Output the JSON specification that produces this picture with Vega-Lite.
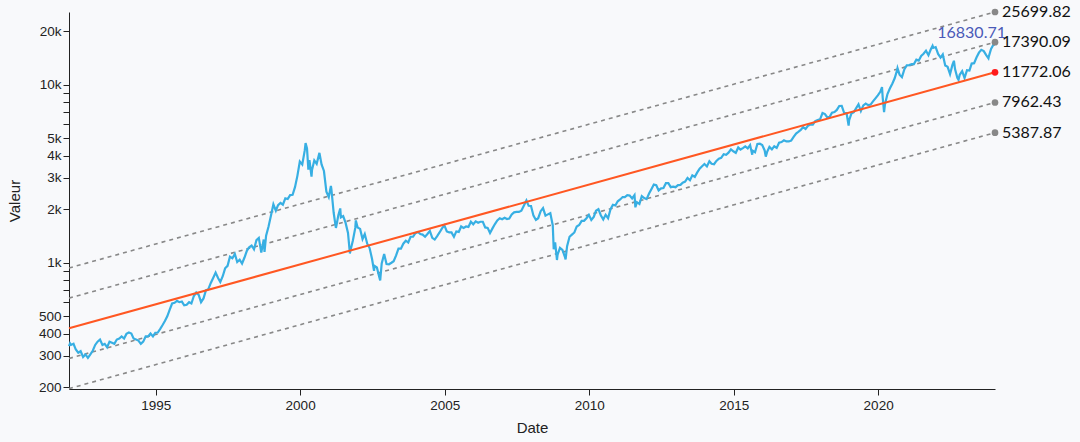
{
  "$schema": "https://vega.github.io/schema/vega-lite/v6.json",
  "width": 926,
  "height": 377,
  "autosize": {"type": "none"},
  "padding": {"left": 69, "top": 12, "right": 85, "bottom": 53},
  "background": "#f8f9fb",
  "config": {
    "view": {"stroke": null},
    "axis": {"domainColor": "#222", "tickColor": "#222", "labelColor": "#222", "titleColor": "#222", "labelFont": "Liberation Sans", "titleFont": "Liberation Sans", "labelFontSize": 13.5, "titleFontSize": 15, "titleFontWeight": "normal", "grid": false, "tickSize": 6}
  },
  "datasets": {
    "px": [
      {"d":"1992-01-02","v":340},{"d":"1992-01-15","v":352},{"d":"1992-01-28","v":345},{"d":"1992-02-28","v":350},{"d":"1992-03-28","v":325},{"d":"1992-04-28","v":312},{"d":"1992-05-28","v":318},{"d":"1992-06-28","v":295},{"d":"1992-07-28","v":305},{"d":"1992-08-28","v":292},{"d":"1992-09-28","v":305},{"d":"1992-10-28","v":320},{"d":"1992-11-28","v":345},{"d":"1992-12-28","v":360},
      {"d":"1993-01-28","v":370},{"d":"1993-02-28","v":345},{"d":"1993-03-28","v":350},{"d":"1993-04-28","v":335},{"d":"1993-05-28","v":360},{"d":"1993-06-28","v":355},{"d":"1993-07-28","v":350},{"d":"1993-08-28","v":370},{"d":"1993-09-28","v":375},{"d":"1993-10-28","v":385},{"d":"1993-11-28","v":375},{"d":"1993-12-28","v":398},
      {"d":"1994-01-28","v":405},{"d":"1994-02-28","v":400},{"d":"1994-03-28","v":375},{"d":"1994-04-28","v":370},{"d":"1994-05-28","v":365},{"d":"1994-06-28","v":350},{"d":"1994-07-28","v":360},{"d":"1994-08-28","v":385},{"d":"1994-09-28","v":385},{"d":"1994-10-28","v":400},{"d":"1994-11-28","v":385},{"d":"1994-12-28","v":404},
      {"d":"1995-01-28","v":405},{"d":"1995-02-28","v":425},{"d":"1995-03-28","v":445},{"d":"1995-04-28","v":470},{"d":"1995-05-28","v":500},{"d":"1995-06-28","v":545},{"d":"1995-07-28","v":590},{"d":"1995-08-28","v":595},{"d":"1995-09-28","v":610},{"d":"1995-10-28","v":600},{"d":"1995-11-28","v":605},{"d":"1995-12-28","v":576},
      {"d":"1996-01-28","v":580},{"d":"1996-02-28","v":600},{"d":"1996-03-28","v":590},{"d":"1996-04-28","v":650},{"d":"1996-05-28","v":680},{"d":"1996-06-28","v":660},{"d":"1996-07-28","v":600},{"d":"1996-08-28","v":630},{"d":"1996-09-28","v":700},{"d":"1996-10-28","v":710},{"d":"1996-11-28","v":770},{"d":"1996-12-28","v":821},
      {"d":"1997-01-28","v":880},{"d":"1997-02-28","v":820},{"d":"1997-03-28","v":780},{"d":"1997-04-28","v":840},{"d":"1997-05-28","v":930},{"d":"1997-06-28","v":960},{"d":"1997-07-28","v":1080},{"d":"1997-08-28","v":1060},{"d":"1997-09-28","v":1120},{"d":"1997-10-28","v":1010},{"d":"1997-11-28","v":1040},{"d":"1997-12-28","v":990},
      {"d":"1998-01-28","v":1070},{"d":"1998-02-28","v":1170},{"d":"1998-03-28","v":1220},{"d":"1998-04-28","v":1250},{"d":"1998-05-28","v":1190},{"d":"1998-06-28","v":1340},{"d":"1998-07-28","v":1380},{"d":"1998-08-28","v":1140},{"d":"1998-09-28","v":1350},{"d":"1998-10-08","v":1150},{"d":"1998-10-28","v":1420},{"d":"1998-11-28","v":1600},{"d":"1998-12-28","v":1836},
      {"d":"1999-01-28","v":2130},{"d":"1999-02-28","v":1960},{"d":"1999-03-28","v":2110},{"d":"1999-04-28","v":2170},{"d":"1999-05-28","v":2120},{"d":"1999-06-28","v":2300},{"d":"1999-07-28","v":2280},{"d":"1999-08-28","v":2400},{"d":"1999-09-28","v":2410},{"d":"1999-10-28","v":2660},{"d":"1999-11-28","v":3090},{"d":"1999-12-28","v":3708},
      {"d":"2000-01-28","v":3570},{"d":"2000-02-28","v":4270},{"d":"2000-03-10","v":4704},{"d":"2000-03-28","v":4400},{"d":"2000-04-14","v":3340},{"d":"2000-04-28","v":3770},{"d":"2000-05-24","v":3050},{"d":"2000-05-30","v":3320},{"d":"2000-06-28","v":3760},{"d":"2000-07-28","v":3600},{"d":"2000-08-28","v":4080},{"d":"2000-09-01","v":4150},{"d":"2000-09-28","v":3570},{"d":"2000-10-28","v":3280},{"d":"2000-11-28","v":2510},{"d":"2000-12-28","v":2341},
      {"d":"2001-01-24","v":2700},{"d":"2001-01-30","v":2590},{"d":"2001-02-28","v":1910},{"d":"2001-03-28","v":1570},{"d":"2001-04-04","v":1620},{"d":"2001-04-28","v":1850},{"d":"2001-05-22","v":2020},{"d":"2001-05-30","v":1800},{"d":"2001-06-28","v":1830},{"d":"2001-07-28","v":1680},{"d":"2001-08-28","v":1470},{"d":"2001-09-21","v":1127},{"d":"2001-09-28","v":1170},{"d":"2001-10-28","v":1330},{"d":"2001-11-28","v":1570},{"d":"2001-12-05","v":1730},{"d":"2001-12-28","v":1577},
      {"d":"2002-01-28","v":1550},{"d":"2002-02-28","v":1360},{"d":"2002-03-28","v":1450},{"d":"2002-04-28","v":1280},{"d":"2002-05-28","v":1210},{"d":"2002-06-28","v":1050},{"d":"2002-07-23","v":900},{"d":"2002-07-30","v":960},{"d":"2002-08-28","v":940},{"d":"2002-09-28","v":830},{"d":"2002-10-09","v":795},{"d":"2002-10-28","v":990},{"d":"2002-11-28","v":1120},{"d":"2002-12-28","v":984},
      {"d":"2003-01-28","v":980},{"d":"2003-02-28","v":1000},{"d":"2003-03-28","v":1020},{"d":"2003-04-28","v":1100},{"d":"2003-05-28","v":1200},{"d":"2003-06-28","v":1200},{"d":"2003-07-28","v":1280},{"d":"2003-08-28","v":1330},{"d":"2003-09-28","v":1300},{"d":"2003-10-28","v":1400},{"d":"2003-11-28","v":1400},{"d":"2003-12-28","v":1467},
      {"d":"2004-01-28","v":1490},{"d":"2004-02-28","v":1450},{"d":"2004-03-28","v":1440},{"d":"2004-04-28","v":1400},{"d":"2004-05-28","v":1450},{"d":"2004-06-28","v":1510},{"d":"2004-07-28","v":1380},{"d":"2004-08-28","v":1350},{"d":"2004-09-28","v":1410},{"d":"2004-10-28","v":1480},{"d":"2004-11-28","v":1560},{"d":"2004-12-28","v":1621},
      {"d":"2005-01-28","v":1500},{"d":"2005-02-28","v":1480},{"d":"2005-03-28","v":1480},{"d":"2005-04-28","v":1400},{"d":"2005-05-28","v":1500},{"d":"2005-06-28","v":1490},{"d":"2005-07-28","v":1600},{"d":"2005-08-28","v":1570},{"d":"2005-09-28","v":1600},{"d":"2005-10-28","v":1590},{"d":"2005-11-28","v":1700},{"d":"2005-12-28","v":1645},
      {"d":"2006-01-28","v":1710},{"d":"2006-02-28","v":1680},{"d":"2006-03-28","v":1700},{"d":"2006-04-28","v":1700},{"d":"2006-05-28","v":1580},{"d":"2006-06-28","v":1570},{"d":"2006-07-28","v":1470},{"d":"2006-08-28","v":1560},{"d":"2006-09-28","v":1650},{"d":"2006-10-28","v":1730},{"d":"2006-11-28","v":1780},{"d":"2006-12-28","v":1757},
      {"d":"2007-01-28","v":1790},{"d":"2007-02-28","v":1760},{"d":"2007-03-28","v":1770},{"d":"2007-04-28","v":1870},{"d":"2007-05-28","v":1920},{"d":"2007-06-28","v":1930},{"d":"2007-07-28","v":1930},{"d":"2007-08-28","v":1960},{"d":"2007-09-28","v":2090},{"d":"2007-10-31","v":2240},{"d":"2007-11-28","v":2090},{"d":"2007-12-28","v":2085},
      {"d":"2008-01-28","v":1840},{"d":"2008-02-28","v":1740},{"d":"2008-03-28","v":1780},{"d":"2008-04-28","v":1950},{"d":"2008-05-28","v":2030},{"d":"2008-06-28","v":1840},{"d":"2008-07-28","v":1870},{"d":"2008-08-28","v":1900},{"d":"2008-09-28","v":1620},{"d":"2008-10-10","v":1190},{"d":"2008-10-28","v":1300},{"d":"2008-11-20","v":1036},{"d":"2008-11-28","v":1110},{"d":"2008-12-28","v":1212},
      {"d":"2009-01-28","v":1180},{"d":"2009-02-28","v":1080},{"d":"2009-03-09","v":1043},{"d":"2009-03-28","v":1240},{"d":"2009-04-28","v":1400},{"d":"2009-05-28","v":1440},{"d":"2009-06-28","v":1480},{"d":"2009-07-28","v":1600},{"d":"2009-08-28","v":1630},{"d":"2009-09-28","v":1720},{"d":"2009-10-28","v":1720},{"d":"2009-11-28","v":1780},{"d":"2009-12-28","v":1860},
      {"d":"2010-01-28","v":1740},{"d":"2010-02-28","v":1810},{"d":"2010-03-28","v":1960},{"d":"2010-04-28","v":2000},{"d":"2010-05-28","v":1850},{"d":"2010-06-28","v":1750},{"d":"2010-07-28","v":1860},{"d":"2010-08-28","v":1780},{"d":"2010-09-28","v":2000},{"d":"2010-10-28","v":2120},{"d":"2010-11-28","v":2100},{"d":"2010-12-28","v":2217},
      {"d":"2011-01-28","v":2270},{"d":"2011-02-28","v":2340},{"d":"2011-03-28","v":2340},{"d":"2011-04-28","v":2400},{"d":"2011-05-28","v":2390},{"d":"2011-06-28","v":2300},{"d":"2011-07-28","v":2400},{"d":"2011-08-08","v":2050},{"d":"2011-08-28","v":2190},{"d":"2011-09-28","v":2140},{"d":"2011-10-28","v":2370},{"d":"2011-11-28","v":2310},{"d":"2011-12-28","v":2278},
      {"d":"2012-01-28","v":2450},{"d":"2012-02-28","v":2600},{"d":"2012-03-28","v":2750},{"d":"2012-04-28","v":2730},{"d":"2012-05-28","v":2550},{"d":"2012-06-28","v":2620},{"d":"2012-07-28","v":2630},{"d":"2012-08-28","v":2800},{"d":"2012-09-28","v":2800},{"d":"2012-10-28","v":2660},{"d":"2012-11-28","v":2680},{"d":"2012-12-28","v":2660},
      {"d":"2013-01-28","v":2730},{"d":"2013-02-28","v":2740},{"d":"2013-03-28","v":2820},{"d":"2013-04-28","v":2860},{"d":"2013-05-28","v":3000},{"d":"2013-06-28","v":2910},{"d":"2013-07-28","v":3100},{"d":"2013-08-28","v":3040},{"d":"2013-09-28","v":3220},{"d":"2013-10-28","v":3380},{"d":"2013-11-28","v":3490},{"d":"2013-12-28","v":3592},
      {"d":"2014-01-28","v":3480},{"d":"2014-02-28","v":3720},{"d":"2014-03-28","v":3600},{"d":"2014-04-28","v":3580},{"d":"2014-05-28","v":3740},{"d":"2014-06-28","v":3850},{"d":"2014-07-28","v":3890},{"d":"2014-08-28","v":4080},{"d":"2014-09-28","v":4050},{"d":"2014-10-28","v":4160},{"d":"2014-11-28","v":4340},{"d":"2014-12-28","v":4236},
      {"d":"2015-01-28","v":4150},{"d":"2015-02-28","v":4450},{"d":"2015-03-28","v":4330},{"d":"2015-04-28","v":4410},{"d":"2015-05-28","v":4510},{"d":"2015-06-28","v":4400},{"d":"2015-07-28","v":4590},{"d":"2015-08-24","v":4050},{"d":"2015-08-28","v":4270},{"d":"2015-09-28","v":4180},{"d":"2015-10-28","v":4650},{"d":"2015-11-28","v":4670},{"d":"2015-12-28","v":4593},
      {"d":"2016-01-28","v":4280},{"d":"2016-02-11","v":3950},{"d":"2016-02-28","v":4200},{"d":"2016-03-28","v":4480},{"d":"2016-04-28","v":4340},{"d":"2016-05-28","v":4520},{"d":"2016-06-28","v":4420},{"d":"2016-07-28","v":4730},{"d":"2016-08-28","v":4770},{"d":"2016-09-28","v":4880},{"d":"2016-10-28","v":4810},{"d":"2016-11-28","v":4810},{"d":"2016-12-28","v":4863},
      {"d":"2017-01-28","v":5100},{"d":"2017-02-28","v":5330},{"d":"2017-03-28","v":5440},{"d":"2017-04-28","v":5580},{"d":"2017-05-28","v":5790},{"d":"2017-06-28","v":5650},{"d":"2017-07-28","v":5880},{"d":"2017-08-28","v":5990},{"d":"2017-09-28","v":5980},{"d":"2017-10-28","v":6250},{"d":"2017-11-28","v":6340},{"d":"2017-12-28","v":6396},
      {"d":"2018-01-28","v":6950},{"d":"2018-02-28","v":6850},{"d":"2018-03-28","v":6580},{"d":"2018-04-28","v":6610},{"d":"2018-05-28","v":6970},{"d":"2018-06-28","v":7040},{"d":"2018-07-28","v":7230},{"d":"2018-08-28","v":7610},{"d":"2018-09-28","v":7630},{"d":"2018-10-28","v":6970},{"d":"2018-11-28","v":6950},{"d":"2018-12-24","v":5900},{"d":"2018-12-31","v":6330},
      {"d":"2019-01-28","v":6900},{"d":"2019-02-28","v":7030},{"d":"2019-03-28","v":7380},{"d":"2019-04-28","v":7780},{"d":"2019-05-28","v":7130},{"d":"2019-06-28","v":7670},{"d":"2019-07-28","v":7850},{"d":"2019-08-28","v":7690},{"d":"2019-09-28","v":7750},{"d":"2019-10-28","v":8080},{"d":"2019-11-28","v":8400},{"d":"2019-12-28","v":8733},
      {"d":"2020-01-28","v":9150},{"d":"2020-02-19","v":9720},{"d":"2020-02-28","v":8460},{"d":"2020-03-16","v":7020},{"d":"2020-03-28","v":7810},{"d":"2020-04-28","v":8890},{"d":"2020-05-28","v":9550},{"d":"2020-06-28","v":10160},{"d":"2020-07-28","v":10900},{"d":"2020-08-28","v":12110},{"d":"2020-09-02","v":12420},{"d":"2020-09-28","v":11420},{"d":"2020-10-28","v":11050},{"d":"2020-11-28","v":12270},{"d":"2020-12-28","v":12888},
      {"d":"2021-01-28","v":12930},{"d":"2021-02-28","v":13090},{"d":"2021-03-28","v":13090},{"d":"2021-04-28","v":13860},{"d":"2021-05-28","v":13690},{"d":"2021-06-28","v":14550},{"d":"2021-07-28","v":14960},{"d":"2021-08-28","v":15580},{"d":"2021-09-28","v":14690},{"d":"2021-10-28","v":15850},{"d":"2021-11-19","v":16570},{"d":"2021-11-28","v":16140},{"d":"2021-12-28","v":16320},
      {"d":"2022-01-28","v":14930},{"d":"2022-02-28","v":14240},{"d":"2022-03-28","v":14840},{"d":"2022-04-28","v":12850},{"d":"2022-05-28","v":12640},{"d":"2022-06-28","v":11500},{"d":"2022-07-28","v":12950},{"d":"2022-08-16","v":13670},{"d":"2022-08-30","v":12270},{"d":"2022-09-28","v":10970},{"d":"2022-10-13","v":10690},{"d":"2022-10-28","v":11400},{"d":"2022-11-28","v":11950},{"d":"2022-12-28","v":10940},
      {"d":"2023-01-28","v":12100},{"d":"2023-02-28","v":12040},{"d":"2023-03-28","v":13180},{"d":"2023-04-28","v":13250},{"d":"2023-05-28","v":14250},{"d":"2023-06-28","v":15180},{"d":"2023-07-28","v":15760},{"d":"2023-08-28","v":15500},{"d":"2023-09-28","v":14720},{"d":"2023-10-26","v":14110},{"d":"2023-10-30","v":14410},{"d":"2023-11-28","v":15950},{"d":"2023-12-28","v":16826},
      {"d":"2024-01-17","v":16830.71}
    ],
    "bands": [
      {"b":"2","d":"1992-01-02","v":934.6},{"b":"2","d":"2024-01-17","v":25699.82},
      {"b":"1","d":"1992-01-02","v":632.5},{"b":"1","d":"2024-01-17","v":17390.09},
      {"b":"0","d":"1992-01-02","v":428},{"b":"0","d":"2024-01-17","v":11772.06},
      {"b":"-1","d":"1992-01-02","v":289.6},{"b":"-1","d":"2024-01-17","v":7962.43},
      {"b":"-2","d":"1992-01-02","v":196},{"b":"-2","d":"2024-01-17","v":5387.87}
    ]
  },
  "encoding": {
    "x": {"field": "d", "type": "temporal", "title": "Date",
      "scale": {"domain": ["1992-01-02", "2024-01-17"]},
      "axis": {"format": "%Y", "tickCount": {"interval": "year", "step": 5}, "titlePadding": 9, "labelPadding": 3}},
    "y": {"field": "v", "type": "quantitative", "title": "Valeur",
      "scale": {"type": "log", "domain": [195, 25700], "nice": false},
      "axis": {"format": "~s", "tickCount": 10, "titlePadding": 16, "labelPadding": 2}}
  },
  "layer": [
    {
      "data": {"name": "bands"},
      "transform": [{"filter": "datum.b != '0'"}],
      "mark": {"type": "line", "color": "#888888", "strokeWidth": 1.6, "strokeDash": [4, 4]},
      "encoding": {"detail": {"field": "b"}}
    },
    {
      "data": {"name": "px"},
      "mark": {"type": "line", "color": "#37afe3", "strokeWidth": 2.2}
    },
    {
      "data": {"name": "bands"},
      "transform": [{"filter": "datum.b == '0'"}],
      "mark": {"type": "line", "color": "#ff5722", "strokeWidth": 2}
    },
    {
      "data": {"name": "bands"},
      "transform": [{"filter": "year(datum.d) == 2024"}],
      "mark": {"type": "circle", "size": 45, "opacity": 1},
      "encoding": {
        "color": {"field": "b", "type": "nominal", "legend": null,
          "scale": {"domain": ["-2", "-1", "0", "1", "2"], "range": ["#888888", "#888888", "#ff1a1a", "#888888", "#888888"]}}
      }
    },
    {
      "data": {"name": "bands"},
      "transform": [{"filter": "year(datum.d) == 2024"}],
      "mark": {"type": "text", "align": "left", "baseline": "middle", "dx": 7, "font": "Lato", "fontSize": 16, "color": "#111111"},
      "encoding": {"text": {"field": "v", "type": "quantitative", "format": ".2f"}}
    },
    {
      "data": {"name": "px"},
      "transform": [{"filter": "year(datum.d) == 2024"}],
      "mark": {"type": "text", "align": "right", "baseline": "alphabetic", "dx": 11, "dy": -7, "font": "Lato", "fontSize": 16, "color": "#4a5ab8"},
      "encoding": {"text": {"field": "v", "type": "quantitative", "format": ".2f"}}
    }
  ]
}
